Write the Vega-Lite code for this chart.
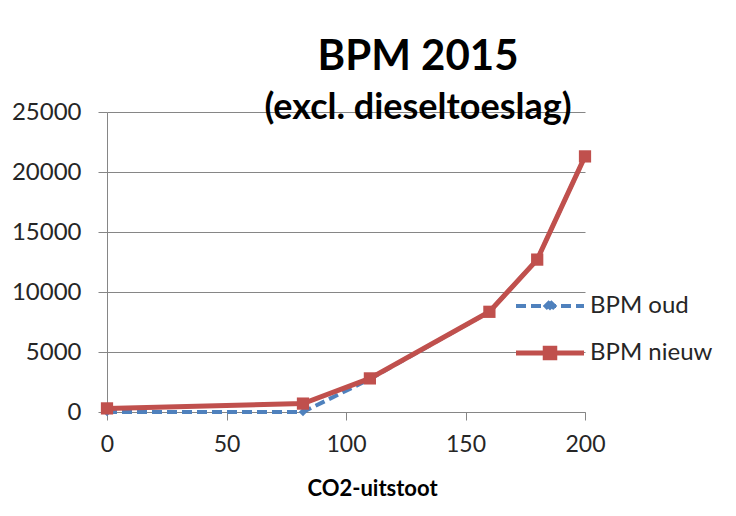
{
  "$schema": "https://vega.github.io/schema/vega-lite/v6.json",
  "autosize": {"type": "none"},
  "width": 478,
  "height": 300,
  "padding": {"left": 107, "top": 112, "right": 151, "bottom": 104},
  "background": "white",
  "config": {
    "font": "Lato",
    "view": {"stroke": null},
    "axis": {"labelFont": "Lato", "titleFont": "Lato", "labelColor": "#262626", "titleColor": "#000000"}
  },
  "title": {
    "text": "BPM 2015",
    "subtitle": "(excl. dieseltoeslag)",
    "anchor": "middle",
    "frame": "group",
    "dx": 72,
    "offset": -27,
    "font": "Lato",
    "fontSize": 42,
    "fontWeight": "bold",
    "color": "#000000",
    "subtitleFont": "Lato",
    "subtitleFontSize": 36,
    "subtitleFontWeight": "bold",
    "subtitleColor": "#000000",
    "subtitlePadding": 12
  },
  "data": {
    "values": [
      {"co2": 0, "bpm": 0, "serie": "BPM oud"},
      {"co2": 82, "bpm": 0, "serie": "BPM oud"},
      {"co2": 110, "bpm": 2750, "serie": "BPM oud"},
      {"co2": 160, "bpm": 8350, "serie": "BPM oud"},
      {"co2": 180, "bpm": 12700, "serie": "BPM oud"},
      {"co2": 200, "bpm": 21300, "serie": "BPM oud"},
      {"co2": 0, "bpm": 300, "serie": "BPM nieuw"},
      {"co2": 82, "bpm": 700, "serie": "BPM nieuw"},
      {"co2": 110, "bpm": 2800, "serie": "BPM nieuw"},
      {"co2": 160, "bpm": 8350, "serie": "BPM nieuw"},
      {"co2": 180, "bpm": 12700, "serie": "BPM nieuw"},
      {"co2": 200, "bpm": 21300, "serie": "BPM nieuw"}
    ]
  },
  "encoding": {
    "x": {
      "field": "co2", "type": "quantitative",
      "scale": {"domain": [0, 200], "nice": false},
      "axis": {
        "title": "CO2-uitstoot",
        "values": [0, 50, 100, 150, 200],
        "grid": false,
        "labelFlush": false,
        "domainColor": "#868686", "tickColor": "#868686",
        "tickSize": 8, "labelPadding": 13, "labelFontSize": 23,
        "titleFontSize": 22, "titleFontWeight": "bold",
        "titleX": 265, "titlePadding": 22
      }
    },
    "y": {
      "field": "bpm", "type": "quantitative",
      "scale": {"domain": [0, 25000], "nice": false},
      "axis": {
        "title": null,
        "values": [0, 5000, 10000, 15000, 20000, 25000],
        "format": "d",
        "grid": true, "gridColor": "#868686", "gridWidth": 1,
        "domainColor": "#868686", "tickColor": "#868686",
        "tickSize": 9, "labelPadding": 17, "labelFontSize": 24
      }
    },
    "color": {
      "field": "serie", "type": "nominal",
      "scale": {"domain": ["BPM oud", "BPM nieuw"], "range": ["#4F81BD", "#C0504D"]},
      "legend": {
        "title": null,
        "orient": "none",
        "legendX": 431,
        "legendY": 182,
        "padding": 0,
        "labelFontSize": 24,
        "labelFont": "Lato",
        "labelColor": "#262626",
        "labelOffset": 28,
        "rowPadding": 19,
        "symbolSize": 4624,
        "symbolStrokeWidth": 4,
        "encode": {
          "symbols": {
            "update": {
              "shape": {"signal": "datum.value === 'BPM oud' ? 'M-1,0H1M0,-0.13L0.13,0L0,0.13L-0.13,0Z' : 'M-1,0H1M-0.14,-0.14H0.14V0.14H-0.14Z'"},
              "strokeDash": {"signal": "datum.value === 'BPM oud' ? [10,5] : [1,0]"},
              "stroke": {"signal": "datum.value === 'BPM oud' ? '#4F81BD' : '#C0504D'"},
              "fill": {"signal": "datum.value === 'BPM oud' ? '#4F81BD' : '#C0504D'"},
              "strokeWidth": {"signal": "datum.value === 'BPM oud' ? 4 : 5"},
              "opacity": {"value": 1},
              "fillOpacity": {"value": 1}
            }
          }
        }
      }
    }
  },
  "layer": [
    {
      "transform": [{"filter": "datum.serie === 'BPM oud'"}],
      "mark": {"type": "line", "strokeWidth": 4, "strokeDash": [10, 5]}
    },
    {
      "transform": [{"filter": "datum.serie === 'BPM oud'"}],
      "mark": {"type": "point", "shape": "diamond", "filled": true, "size": 70, "opacity": 1}
    },
    {
      "transform": [{"filter": "datum.serie === 'BPM nieuw'"}],
      "mark": {"type": "line", "strokeWidth": 5}
    },
    {
      "transform": [{"filter": "datum.serie === 'BPM nieuw'"}],
      "mark": {"type": "point", "shape": "square", "filled": true, "size": 150, "opacity": 1}
    }
  ]
}
